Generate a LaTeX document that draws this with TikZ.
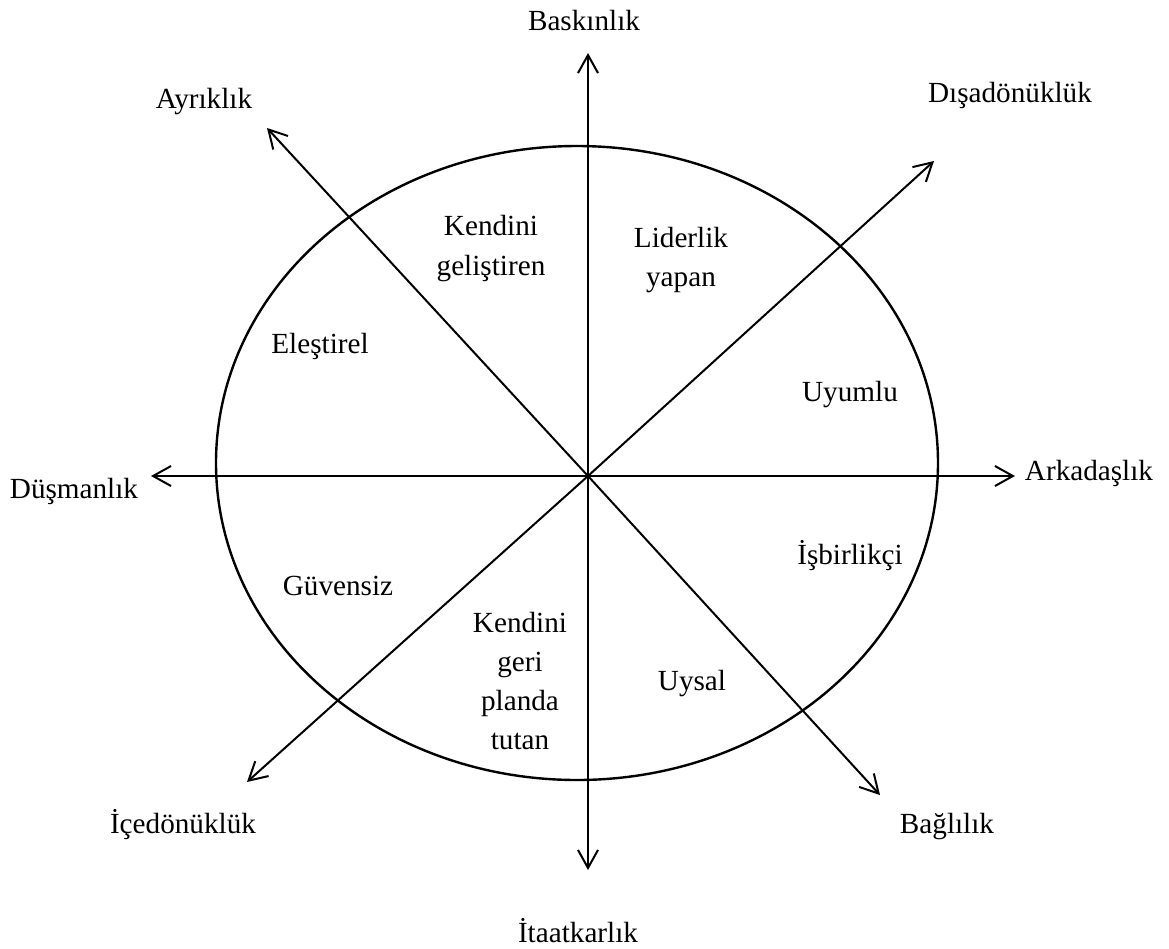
\documentclass[tikz,border=0pt]{standalone}
\usepackage{fontspec}
\setmainfont{Liberation Serif}
\usetikzlibrary{arrows.meta}
\begin{document}
\begin{tikzpicture}[x=0.5pt,y=-0.5pt,>={Straight Barb[length=9pt,width=10pt]},
		lbl/.style={font=\fontsize{14.6}{19.6}\selectfont, inner sep=0pt},
		eksen/.style={<->,line width=1pt}]
			\useasboundingbox (0,0) rectangle (1169,949);
			\coordinate (O) at (588,476);
			\coordinate (bas) at (588,53);
			\coordinate (ita) at (588,870);
			\coordinate (dus) at (151,476);
			\coordinate (ark) at (1015,476);
			\coordinate (ayr) at (267,128);
			\coordinate (bag) at (880,795);
			\coordinate (dis) at (934,161);
			\coordinate (ice) at (247,782);
			\draw[line width=1.2pt] (577,463) ellipse [x radius=361, y radius=317];
			\foreach \a/\b in {bas/ita,dus/ark,ayr/bag,dis/ice}{
				\draw[eksen] (\a) -- (O) -- (\b);
			}
			% eksen uclari
			\node[lbl,anchor=base] (nbas) at (584,30) {Baskınlık};
			\node[lbl,anchor=base] (nita) at (578,942) {İtaatkarlık};
			\node[lbl,anchor=base] (ndus) at (74,498) {Düşmanlık};
			\node[lbl,anchor=base] (nark) at (1089,480) {Arkadaşlık};
			\node[lbl,anchor=base] (nayr) at (204,108) {Ayrıklık};
			\node[lbl,anchor=base] (ndis) at (1010,102) {Dışadönüklük};
			\node[lbl,anchor=base] (nice) at (183,833) {İçedönüklük};
			\node[lbl,anchor=base] (nbag) at (947,833) {Bağlılık};
			% dilimler
			\node[lbl,align=center] (nkg) at (491,248.5) {Kendini\\geliştiren};
			\node[lbl,align=center] (nld) at (681,260) {Liderlik\\yapan};
			\node[lbl,anchor=base] (nel) at (320,353) {Eleştirel};
			\node[lbl,anchor=base] (nuy) at (850,401) {Uyumlu};
			\node[lbl,anchor=base] (ngv) at (338,595) {Güvensiz};
			\node[lbl,anchor=base] (nis) at (850,564) {İşbirlikçi};
			\node[lbl,align=center] (nkt) at (520,681) {Kendini\\geri\\planda\\tutan};
			\node[lbl,anchor=base] (nus) at (692,690) {Uysal};
\end{tikzpicture}
\end{document}
